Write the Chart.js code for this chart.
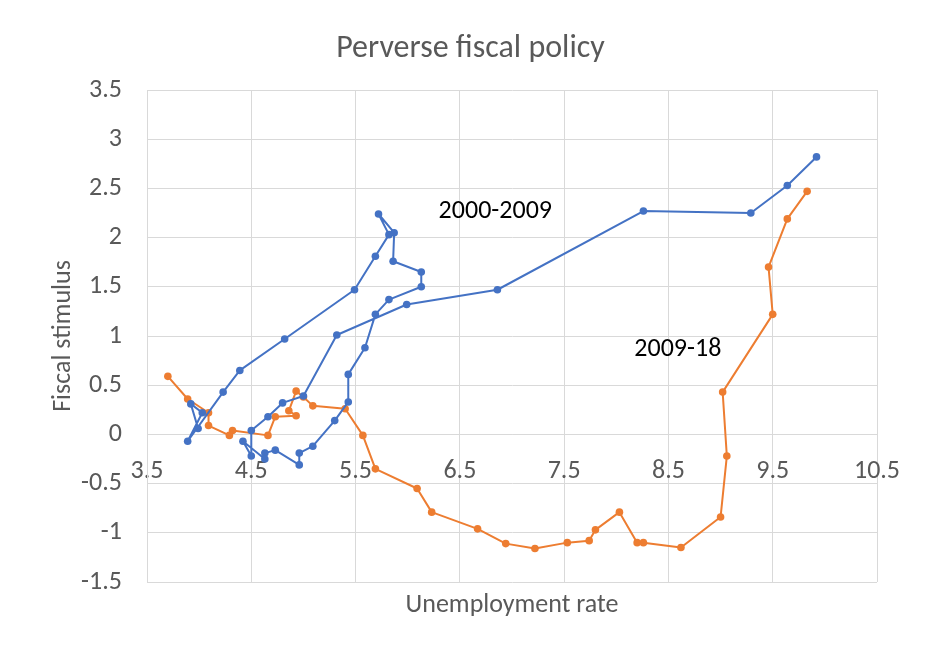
<!DOCTYPE html>
<html>
<head>
<meta charset="utf-8">
<script src="https://cdn.jsdelivr.net/npm/chart.js@4/dist/chart.umd.min.js"></script>
<style>
  html, body { margin: 0; padding: 0; background: #fff; }
  #wrap { width: 945px; height: 649px; }
</style>
</head>
<body>
<div id="wrap"><canvas id="chart" width="945" height="649"></canvas></div>
<script>
// Quarterly points, unemployment rate (x) vs fiscal stimulus (y)
const UNEMP_2000_09 = [
  3.99, 3.92, 4.03, 3.89, 4.23, 4.39, 4.82, 5.49, 5.69, 5.82,
  5.72, 5.87, 5.86, 6.13, 6.13, 5.82, 5.69, 5.59, 5.43, 5.43,
  5.30, 5.09, 4.96, 4.96, 4.73, 4.63, 4.63, 4.42, 4.50, 4.50,
  4.66, 4.80, 5.00, 5.32, 5.99, 6.86, 8.26, 9.29, 9.64, 9.92,
];
const STIM_2000_09 = [
  0.06, 0.31, 0.22, -0.07, 0.43, 0.65, 0.97, 1.47, 1.81, 2.03,
  2.24, 2.05, 1.76, 1.65, 1.50, 1.37, 1.22, 0.88, 0.61, 0.33,
  0.14, -0.12, -0.19, -0.31, -0.16, -0.19, -0.25, -0.07, -0.22, 0.04,
  0.18, 0.32, 0.39, 1.01, 1.32, 1.47, 2.27, 2.25, 2.53, 2.82,
];
const UNEMP_2009_18 = [
  9.83, 9.64, 9.46, 9.50, 9.02, 9.06, 9.00, 8.62, 8.26, 8.20,
  8.03, 7.80, 7.74, 7.53, 7.22, 6.94, 6.67, 6.23, 6.09, 5.69,
  5.57, 5.40, 5.09, 5.00, 4.93, 4.86, 4.93, 4.73, 4.66, 4.32,
  4.29, 4.09, 4.09, 3.89, 3.70,
];
const STIM_2009_18 = [
  2.47, 2.19, 1.70, 1.22, 0.43, -0.22, -0.84, -1.15, -1.10, -1.10,
  -0.79, -0.97, -1.08, -1.10, -1.16, -1.11, -0.96, -0.79, -0.55, -0.35,
  -0.01, 0.26, 0.29, 0.38, 0.44, 0.24, 0.19, 0.18, -0.01, 0.04,
  -0.01, 0.09, 0.22, 0.36, 0.59,
];

const X_TICKS = [3.5, 4.5, 5.5, 6.5, 7.5, 8.5, 9.5, 10.5];
const Y_TICKS = [-1.5, -1, -0.5, 0, 0.5, 1, 1.5, 2, 2.5, 3, 3.5];

const SERIES_NAMES = ['2000-2009', '2009-18'];
const SERIES_COLORS = ['#4472C4', '#ED7D31'];

const TITLE = 'Perverse fiscal policy';
const X_TITLE = 'Unemployment rate';
const Y_TITLE = 'Fiscal stimulus';

const FONT = 'Carlito, Calibri, Lato, sans-serif';
const TEXT_GREY = '#595959';
const GRID_GREY = '#d9d9d9';

function toPoints(xs, ys) {
  return xs.map((x, i) => ({ x, y: ys[i] }));
}

function fixedTicks(values) {
  return scale => { scale.ticks = values.map(v => ({ value: v })); };
}

// titles and in-plot series labels drawn on top of the chart
const textPlugin = {
  id: 'chartText',
  afterDraw(chart) {
    const { ctx, chartArea, scales } = chart;
    ctx.save();
    ctx.fillStyle = TEXT_GREY;
    ctx.textAlign = 'center';
    ctx.textBaseline = 'alphabetic';

    ctx.font = `32px ${FONT}`;
    ctx.fillText(TITLE, chart.width / 2 - 2, 57);

    ctx.font = `26px ${FONT}`;
    ctx.fillText(X_TITLE, (chartArea.left + chartArea.right) / 2, 612);

    ctx.save();
    ctx.translate(70, (chartArea.top + chartArea.bottom) / 2);
    ctx.rotate(-Math.PI / 2);
    ctx.fillText(Y_TITLE, 0, 0);
    ctx.restore();

    // series names sit next to their loops
    ctx.fillStyle = '#000';
    const spots = [[6.84, 2.2], [8.59, 0.8]];
    SERIES_NAMES.forEach((name, i) => {
      const px = scales.x.getPixelForValue(spots[i][0]);
      const py = scales.y.getPixelForValue(spots[i][1]);
      ctx.fillText(name, px, py);
    });
    ctx.restore();
  },
};

function makeDataset(label, xs, ys, color) {
  return {
    label,
    data: toPoints(xs, ys),
    showLine: true,
    borderColor: color,
    backgroundColor: color,
    borderWidth: 2,
    borderJoinStyle: 'round',
    borderCapStyle: 'round',
    pointRadius: 3.8,
    pointBorderWidth: 0,
    pointBackgroundColor: color,
    tension: 0,
  };
}

new Chart(document.getElementById('chart'), {
  type: 'scatter',
  plugins: [textPlugin],
  data: {
    datasets: [
      makeDataset(SERIES_NAMES[0], UNEMP_2000_09, STIM_2000_09, SERIES_COLORS[0]),
      makeDataset(SERIES_NAMES[1], UNEMP_2009_18, STIM_2009_18, SERIES_COLORS[1]),
    ],
  },
  options: {
    responsive: false,
    animation: false,
    layout: { padding: { top: 90, right: 68, bottom: 67, left: 0 } },
    plugins: {
      legend: { display: false },
      title: { display: false },
      tooltip: { enabled: false },
    },
    scales: {
      x: {
        type: 'linear',
        min: 3.5,
        max: 10.5,
        position: { y: 0 },
        afterBuildTicks: fixedTicks(X_TICKS),
        grid: { color: GRID_GREY, drawTicks: false },
        border: { color: GRID_GREY },
        ticks: {
          color: TEXT_GREY,
          font: { family: FONT, size: 26 },
          padding: 21,
          maxRotation: 0,
          autoSkip: false,
          callback: v => String(v),
        },
      },
      y: {
        type: 'linear',
        min: -1.5,
        max: 3.5,
        afterBuildTicks: fixedTicks(Y_TICKS),
        afterFit: scale => { scale.width = 147; },
        grid: { color: GRID_GREY, drawTicks: false },
        border: { color: GRID_GREY },
        ticks: {
          color: TEXT_GREY,
          font: { family: FONT, size: 26 },
          padding: 25,
          autoSkip: false,
          callback: v => String(v),
        },
      },
    },
  },
});
</script>
</body>
</html>
